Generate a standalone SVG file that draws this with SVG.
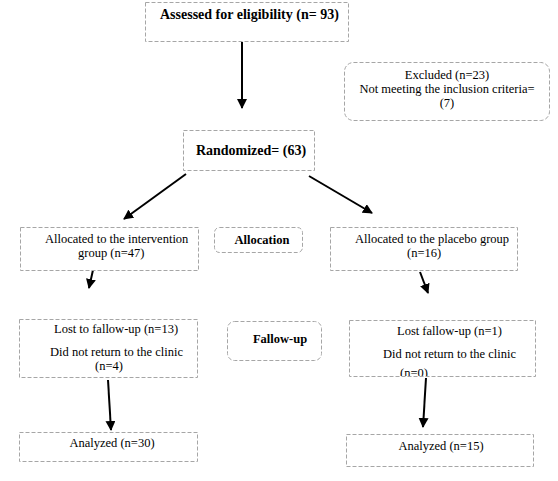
<svg xmlns="http://www.w3.org/2000/svg" width="558" height="481" viewBox="0 0 558 481">
<style>
.box{fill:#fff;stroke:#a6a6a6;stroke-width:1;stroke-dasharray:4 2}
text{font-family:"Liberation Serif","Times New Roman",serif;font-size:12.5px;fill:#000}
.b{font-weight:bold}
.big{font-size:14px}
.c{text-anchor:middle}
.arr{stroke:#000;stroke-width:2;fill:none;marker-end:url(#ah)}
</style>
<defs>
<marker id="ah" viewBox="0 0 10 10" refX="9" refY="5" markerWidth="5" markerHeight="5" orient="auto" markerUnits="strokeWidth">
<path d="M0,0 L10,5 L0,10 z" fill="#000"/>
</marker>
<clipPath id="clipR"><rect x="349" y="320" width="187" height="56"/></clipPath>
</defs>
<rect width="558" height="481" fill="#fff"/>
<g id="connectors">
<line class="arr" x1="242" y1="42" x2="242" y2="108"/>
<line class="arr" x1="186" y1="174" x2="124" y2="219"/>
<line class="arr" x1="309" y1="176" x2="372" y2="213"/>
<line class="arr" x1="93" y1="270" x2="89" y2="288"/>
<line class="arr" x1="420" y1="272" x2="428" y2="293"/>
<line class="arr" x1="108" y1="380" x2="111" y2="430"/>
<line class="arr" x1="426" y1="378" x2="423" y2="427"/>
</g>
<g id="assessed">
<rect class="box" x="145.5" y="2.5" width="203" height="39"/>
<text class="b big" x="160" y="19">Assessed for eligibility (n= 93)</text>
</g>
<g id="excluded">
<rect class="box" x="344.5" y="62.5" width="205" height="58" rx="9"/>
<text class="c" x="447" y="79">Excluded (n=23)</text>
<text class="c" x="447" y="93">Not meeting the inclusion criteria=</text>
<text class="c" x="447" y="107">(7)</text>
</g>
<g id="randomized">
<rect class="box" x="183.5" y="130.5" width="131" height="40"/>
<text class="b big c" x="251" y="155">Randomized= (63)</text>
</g>
<g id="alloc-int">
<rect class="box" x="20.5" y="227.5" width="178" height="43"/>
<text x="45" y="243">Allocated to the intervention</text>
<text x="78" y="257">group (n=47)</text>
</g>
<g id="allocation">
<rect class="box" x="214.5" y="227.5" width="88" height="25" rx="5"/>
<text class="b c" x="262" y="244">Allocation</text>
</g>
<g id="alloc-pla">
<rect class="box" x="330.5" y="227.5" width="187" height="43"/>
<text x="355" y="243">Allocated to the placebo group</text>
<text x="407" y="257">(n=16)</text>
</g>
<g id="lost-int">
<rect class="box" x="19.5" y="319.5" width="178" height="58"/>
<text x="54" y="333">Lost to fallow-up (n=13)</text>
<text x="50" y="356">Did not return to the clinic</text>
<text x="95" y="370">(n=4)</text>
</g>
<g id="fallow-up">
<rect class="box" x="227.5" y="321.5" width="94" height="39" rx="7"/>
<text class="b c" x="280" y="343">Fallow-up</text>
</g>
<g id="lost-pla">
<rect class="box" x="349.5" y="320.5" width="186" height="56"/>
<text x="397" y="335">Lost fallow-up (n=1)</text>
<text x="383" y="358">Did not return to the clinic</text>
<text x="400" y="377" clip-path="url(#clipR)">(n=0)</text>
</g>
<g id="analyzed-int">
<rect class="box" x="19.5" y="432.5" width="178" height="29"/>
<text class="c" x="112" y="447">Analyzed (n=30)</text>
</g>
<g id="analyzed-pla">
<rect class="box" x="346.5" y="434.5" width="187" height="32"/>
<text class="c" x="441" y="450">Analyzed (n=15)</text>
</g>
</svg>
